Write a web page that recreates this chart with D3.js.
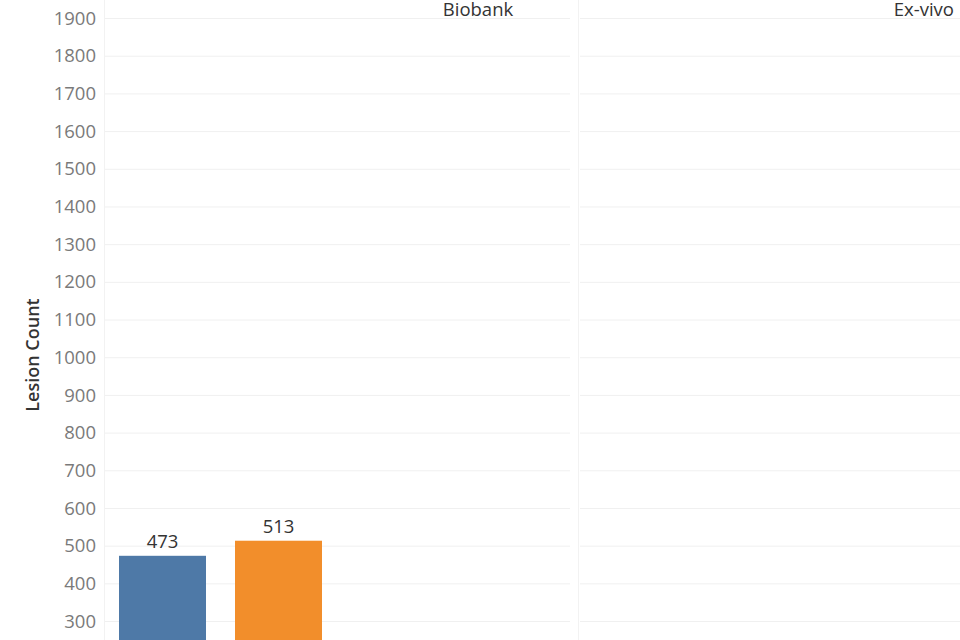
<!DOCTYPE html>
<html>
<head>
<meta charset="utf-8">
<script src="https://cdn.jsdelivr.net/npm/d3@7"></script>
<style>
  body { margin: 0; background: #fff; }
  svg { display: block; font-family: "Open Sans", sans-serif; }
</style>
</head>
<body>
<svg id="chart"></svg>
<script>
// data
const panels = ['Biobank', 'Ex-vivo']
const categories = ['A', 'B']
const biobankValues = [473, 513]
const yTicks = [300, 400, 500, 600, 700, 800, 900, 1000, 1100, 1200, 1300, 1400, 1500, 1600, 1700, 1800, 1900]
const colors = ['#4e79a7', '#f28e2b']

const svg = d3.select('#chart')
              .attr('width', 960)
              .attr('height', 640)

// y scale: 1900 at top row, 300 near bottom edge
const y = d3.scaleLinear().domain([300, 1900]).range([621, 18])

// panel extents
const panelX = [[104, 572], [578, 960]]

// y-axis tick labels
svg.append('g')
  .selectAll('text')
  .data(yTicks)
  .join('text')
  .attr('x', 96)
  .attr('y', d => y(d))
  .attr('dy', '0.36em')
  .attr('text-anchor', 'end')
  .attr('fill', '#7a7a7a')
  .style('font-size', '18.5px')
  .text(d => d)

// axis title
svg.append('text')
  .attr('transform', 'translate(39,355) rotate(-90)')
  .attr('text-anchor', 'middle')
  .attr('fill', '#333')
  .style('font-size', '18px')
  .style('font-weight', 600)
  .text('Lesion Count')

// gridlines for each panel
panelX.forEach(([x0, x1], i) => {
  const g = svg.append('g')
  g.selectAll('line')
    .data(yTicks)
    .join('line')
    .attr('x1', x0 + (i === 0 ? 0 : 2))
    .attr('x2', i === 0 ? x1 - 2 : x1)
    .attr('y1', d => y(d) + 0.5)
    .attr('y2', d => y(d) + 0.5)
    .attr('stroke', '#f0f0f0')
    .attr('stroke-width', 1)

  // faint panel border
  g.append('line')
    .attr('x1', x0 + 0.5).attr('x2', x0 + 0.5)
    .attr('y1', 0).attr('y2', 640)
    .attr('stroke', '#f2f2f2')
})

// bars in the Biobank panel
const x = d3.scaleBand().domain(categories).range([119, 322]).paddingInner(0.25).paddingOuter(0)

const bars = svg.append('g')
bars.selectAll('rect')
  .data(biobankValues)
  .join('rect')
  .attr('x', (d, i) => x(categories[i]))
  .attr('width', x.bandwidth())
  .attr('y', d => y(d))
  .attr('height', d => 700 - y(d))
  .attr('fill', (d, i) => colors[i])

bars.selectAll('text')
  .data(biobankValues)
  .join('text')
  .attr('x', (d, i) => x(categories[i]) + x.bandwidth() / 2)
  .attr('y', d => y(d) - 8)
  .attr('text-anchor', 'middle')
  .attr('fill', '#333')
  .style('font-size', '18.5px')
  .text(d => d)

// panel headers (sit at the very top edge)
svg.append('text')
  .attr('x', 478).attr('y', 16)
  .attr('text-anchor', 'middle')
  .attr('fill', '#333')
  .style('font-size', '18.5px')
  .text(panels[0])

svg.append('text')
  .attr('x', 954).attr('y', 16)
  .attr('text-anchor', 'end')
  .attr('fill', '#333')
  .style('font-size', '18.5px')
  .text(panels[1])
</script>
</body>
</html>
